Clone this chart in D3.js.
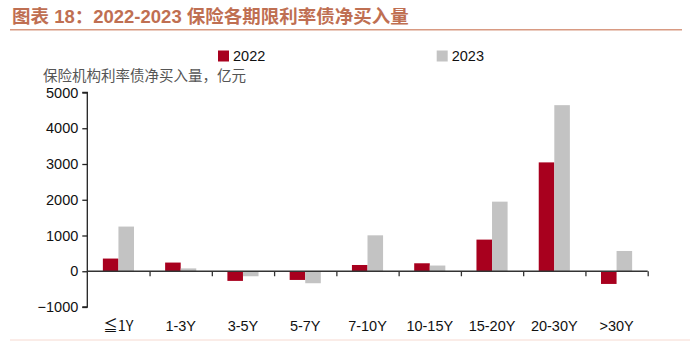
<!DOCTYPE html>
<html><head><meta charset="utf-8">
<script src="https://cdn.jsdelivr.net/npm/d3@7"></script>
<style>body{margin:0;background:#fff}svg{display:block}</style>
</head><body>
<script>
const categories = ["≦1Y","1-3Y","3-5Y","5-7Y","7-10Y","10-15Y","15-20Y","20-30Y",">30Y"];
const series2022 = [355, 243, -270, -243, 175, 223, 885, 3045, -355];
const series2023 = [1250, 80, -140, -335, 1005, 160, 1947, 4646, 567];
const seriesNames = ["2022","2023"];
const yTicks = [-1000, 0, 1000, 2000, 3000, 4000, 5000];
const colors = ["#a8001e", "#c3c3c3"];

const W = 700, H = 341;
const svg = d3.select("body").append("svg").attr("width", W).attr("height", H);
const font = "'Liberation Sans', Arial, sans-serif";
const cjk = "'Noto Sans CJK SC', sans-serif";
const mixed = "'Liberation Sans', 'Noto Sans CJK SC', sans-serif";

// Title
svg.append("text").attr("x", 12).attr("y", 23)
  .attr("font-family", mixed).attr("font-weight", "bold").attr("font-size", 18.5)
  .attr("fill", "#bf6f52").text("图表 18：2022-2023 保险各期限利率债净买入量");
svg.append("line").attr("x1", 10).attr("x2", 682).attr("y1", 29.7).attr("y2", 29.7)
  .attr("stroke", "#d89a82").attr("stroke-width", 1.6);
svg.append("line").attr("x1", 10).attr("x2", 690).attr("y1", 340).attr("y2", 340)
  .attr("stroke", "#f6d9d0").attr("stroke-width", 1);

const x0 = 87.3, x1 = 647.7;
const y = d3.scaleLinear().domain([-1000, 5000]).range([307, 92.5]);
const x = d3.scaleBand().domain(categories).range([x0, x1]).paddingInner(0.5).paddingOuter(0.25);
const xs = d3.scaleBand().domain(seriesNames).range([0, x.bandwidth()]);

// Y axis title
svg.append("text").attr("x", 43).attr("y", 81)
  .attr("font-family", cjk).attr("font-size", 14.5).attr("fill", "#555").text("保险机构利率债净买入量，亿元");

// Bars
const data = [series2022, series2023];
data.forEach((s, si) => {
  svg.append("g").selectAll("rect").data(s).join("rect")
    .attr("x", (d, i) => x(categories[i]) + xs(seriesNames[si]))
    .attr("width", xs.bandwidth())
    .attr("y", d => y(Math.max(0, d)))
    .attr("height", d => Math.abs(y(d) - y(0)))
    .attr("fill", colors[si]);
});

// Y axis
const yAxis = svg.append("g").attr("transform", `translate(${x0},0)`)
  .call(d3.axisLeft(y).tickValues(yTicks).tickSize(5).tickPadding(4).tickFormat(d3.format("d")));
yAxis.select(".domain").attr("stroke", "#222").attr("stroke-width", 1.3).attr("d", `M-5,${y(5000)}H0V${y(-1000)}H-5`);
yAxis.selectAll(".tick line").attr("stroke", "#222").attr("stroke-width", 1.3);
yAxis.selectAll("text").attr("font-family", font).attr("font-size", 14.5).attr("fill", "#111");

// X axis at zero
const xb = d3.scaleLinear().domain([0, categories.length]).range([x0, x1]);
const xAxis = svg.append("g").attr("transform", `translate(0,${y(0)})`)
  .call(d3.axisBottom(xb).tickValues(d3.range(1, categories.length + 1)).tickSize(5).tickFormat(""));
xAxis.select(".domain").attr("stroke", "#333").attr("stroke-width", 1.3).attr("d", `M${x0},0H${x1}`);
xAxis.selectAll(".tick line").attr("stroke", "#333").attr("stroke-width", 1.3);

// X labels
svg.append("g").selectAll("text").data(categories).join("text")
  .attr("x", d => x(d) + x.bandwidth() / 2)
  .attr("y", 331)
  .attr("text-anchor", "middle")
  .attr("font-family", d => d.startsWith("≦") ? cjk : font)
  .attr("font-size", 14.5).attr("fill", "#111").text(d => d);

// Legend
const legX = [218, 436.7];
seriesNames.forEach((n, i) => {
  svg.append("rect").attr("x", legX[i]).attr("y", 50.5).attr("width", 11).attr("height", 11).attr("fill", colors[i]);
  svg.append("text").attr("x", legX[i] + 15).attr("y", 61).attr("font-family", font)
    .attr("font-size", 14.5).attr("fill", "#111").text(n);
});
</script>
</body></html>
